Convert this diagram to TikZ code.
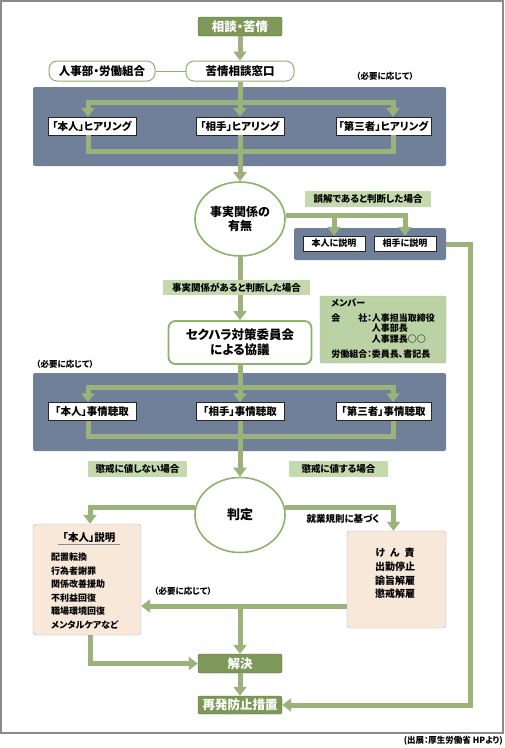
\documentclass[tikz,border=0pt]{standalone}
\usepackage{fontspec}
\setmainfont{Noto Sans CJK JP}[RawFeature=+palt]
\usetikzlibrary{arrows.meta,positioning,shapes.geometric}
\definecolor{flowgreen}{HTML}{9BB37A}
\definecolor{boxgreen}{HTML}{7D9858}
\definecolor{ringgreen}{HTML}{8DB26E}
\definecolor{labelgreen}{HTML}{C4DAAE}
\definecolor{membergreen}{HTML}{BBD3A4}
\definecolor{panelblue}{HTML}{718099}
\definecolor{peach}{HTML}{F7E8DA}
\definecolor{framegray}{HTML}{8A8A8A}

\newcommand{\fs}[1]{\fontsize{#1}{#1}\selectfont\bfseries}

\begin{document}
\begin{tikzpicture}[
    x=1pt, y=-1pt,
    >={Triangle[width=13pt,length=9pt]},
    line/.style={line width=5pt, draw=flowgreen},
    flow/.style={line, ->},
    endbox/.style={
      rectangle, rounded corners=2pt, fill=boxgreen, draw=boxgreen!75!black,
      text=white, minimum width=84pt, minimum height=19pt, inner sep=0pt,
      font=\fs{12.5}
    },
    window/.style={
      rectangle, rounded corners=8pt, draw=ringgreen, line width=1pt,
      fill=white, minimum height=20pt, inner sep=0pt, font=\fs{11.5}
    },
    panel/.style={rectangle, rounded corners=2pt, fill=panelblue, inner sep=0pt},
    hear/.style={
      rectangle, draw=black!85, fill=white, minimum height=18pt,
      inner sep=0pt, font=\fs{10.5}
    },
    judge/.style={
      ellipse, draw=ringgreen, line width=1.6pt, fill=white,
      minimum width=90pt, minimum height=74pt, inner sep=0pt,
      align=center, font=\fontsize{12}{14.5}\selectfont\bfseries
    },
    caselabel/.style={
      rectangle, fill=labelgreen, minimum height=16pt, inner sep=0pt,
      font=\fs{9.5}
    },
    resultbox/.style={
      rectangle, rounded corners=3pt, fill=peach, draw=black!30,
      inner sep=0pt
    },
    note/.style={inner sep=0pt, font=\fontsize{8.5}{10}\selectfont\bfseries}
  ]
  \useasboundingbox (0,0) rectangle (505,748);
  \draw[framegray, line width=1.2pt] (1,1) rectangle (503,733);

  \node[endbox] (soudan) at (240,26.5) {相談・苦情};
  \node[window, minimum width=108pt] (madoguchi) at (240,71) {苦情相談窓口};
  \node[window, minimum width=106pt] (jinji) at (102,71) {人事部・労働組合};
  \node[note] (need1) at (385,76) {（必要に応じて）};

  \node[panel, minimum width=413pt, minimum height=79pt] (pnl1) at (239.5,126.5) {};
  \node[hear, minimum width=88pt] (h1) at (92,126) {「本人」ヒアリング};
  \node[hear, minimum width=88pt] (h2) at (240,126) {「相手」ヒアリング};
  \node[hear, minimum width=95pt] (h3) at (383.5,126) {「第三者」ヒアリング};

  \node[judge] (umu) at (240,219) {事実関係の\\有無};
  \node[panel, minimum width=152pt, minimum height=32pt] (pnl2) at (370,244) {};
  \node[hear, minimum width=62pt, minimum height=15pt, font=\fs{9}] (ex1) at (334,243.5) {本人に説明};
  \node[hear, minimum width=62pt, minimum height=15pt, font=\fs{9}] (ex2) at (405,243.5) {相手に説明};

  \node[window, rounded corners=7pt, line width=1.8pt, minimum width=143pt,
        minimum height=43pt, align=center,
        font=\fontsize{12.5}{15}\selectfont\bfseries] (iinkai) at (240,342.5)
    {セクハラ対策委員会\\による協議};
  \node[rectangle, rounded corners=2pt, fill=membergreen, draw=black!35,
        minimum width=126pt, minimum height=67pt, inner sep=0pt,
        font=\fontsize{9}{10}\selectfont\bfseries] (member) at (383,329.5)
    {\begin{tabular}{@{}l@{}l@{}}
       \multicolumn{2}{@{}l@{}}{メンバー}\\[4pt]
       会\hspace{2em}社：&人事担当取締役\\
       &人事部長\\
       &人事課長○○\\[4pt]
       労働組合：&委員長、書記長
     \end{tabular}};
  \node[note] (need2) at (65,364) {（必要に応じて）};

  \node[panel, minimum width=413pt, minimum height=78pt] (pnl3) at (239.5,412) {};
  \node[hear, minimum width=88pt] (k1) at (92,411.5) {「本人」事情聴取};
  \node[hear, minimum width=88pt] (k2) at (240,411.5) {「相手」事情聴取};
  \node[hear, minimum width=95pt] (k3) at (383.5,411.5) {「第三者」事情聴取};

  \node[judge, minimum height=75pt, font=\fs{13}] (hantei) at (240,515) {判定};
  \node[inner sep=0pt, font=\fs{9.5}] (kisoku) at (343,519) {就業規則に基づく};

  \node[resultbox, minimum width=108pt, minimum height=111pt] (setsumei) at (87,579.5) {};
  \node[inner sep=1pt, font=\fs{10.5}] (stitle) at (89,538) {「本人」説明};
  \draw[black!45, line width=0.6pt] ([xshift=-4pt]stitle.south west) -- ([xshift=4pt]stitle.south east);
  \node[anchor=north west, inner sep=0pt, align=left,
        font=\fontsize{9}{13.5}\selectfont\bfseries] (sitems) at (51,553)
    {配置転換\\行為者謝罪\\関係改善援助\\不利益回復\\職場環境回復\\メンタルケアなど};

  \node[resultbox, minimum width=99pt, minimum height=97pt] (kenseki) at (396.5,579.5) {};
  \node[inner sep=0pt, align=center,
        font=\fontsize{10}{13.7}\selectfont\bfseries] (kitems) at (395,573.5)
    {け\hspace{0.5em}ん\hspace{0.5em}責\\出勤停止\\諭旨解雇\\懲戒解雇};
  \node[note] (need3) at (183,591) {（必要に応じて）};

  \node[endbox] (kaiketsu) at (240,663.5) {解決};
  \node[endbox, minimum height=18pt] (saihatsu) at (240,705) {再発防止措置};

  \coordinate (t1) at (240,102);
  \coordinate (b1) at (240,151);
  \coordinate (t2) at (240,387);
  \coordinate (b2) at (240,436);
  \coordinate (j4) at (240,606);

  \draw[flow] (soudan) -- (madoguchi);
  \draw[ringgreen, line width=0.8pt] (jinji) -- (madoguchi);
  \draw[flow] (madoguchi.south) -- (h2.north);
  \draw[flow] (t1) -| ([xshift=-4pt]h1.north);
  \draw[flow] (t1) -| ([xshift=9.5pt]h3.north);
  \draw[line] ([xshift=-4pt]h1.south) |- (b1) -| ([xshift=9.5pt]h3.south);
  \draw[flow] (h2.south) -- (umu.north);

  \draw[flow] (umu.5) -| (ex2.north);
  \draw[flow] (umu.5 -| ex1.north) -- (ex1.north);
  \draw[flow] (pnl2.east) -- ++(24,0) |- (saihatsu.east);
  \draw[flow] (umu.south) -- (iinkai.north);

  \draw[flow] (iinkai.south) -- (k2.north);
  \draw[flow] (t2) -| ([xshift=-4pt]k1.north);
  \draw[flow] (t2) -| ([xshift=9.5pt]k3.north);
  \draw[line] ([xshift=-4pt]k1.south) |- (b2) -| ([xshift=9.5pt]k3.south);
  \draw[flow] (k2.south) -- (hantei.north);

  \draw[flow] (hantei.170) -| ([xshift=3pt]setsumei.north);
  \draw[flow] (hantei.10) -| ([xshift=-3pt]kenseki.north);
  \draw[flow] (j4 -| kenseki.west) -- (j4 -| setsumei.east);
  \draw[flow] (j4) -- (kaiketsu.north);
  \draw[flow] ([xshift=3pt]setsumei.south) |- (kaiketsu.west);
  \draw[flow] (kaiketsu) -- (saihatsu);

  \node[caselabel, minimum width=126pt] (gokai) at (368,199) {誤解であると判断した場合};
  \node[caselabel, minimum width=147pt, minimum height=15pt] (aru) at (236.5,287.5) {事実関係があると判断した場合};
  \node[caselabel, minimum width=99pt] (atainai) at (137.5,469) {懲戒に値しない場合};
  \node[caselabel, minimum width=99pt] (ataisuru) at (338.5,469) {懲戒に値する場合};

  \node[note, anchor=east] (source) at (503,741) {(出展：厚生労働省 HPより)};
\end{tikzpicture}
\end{document}
